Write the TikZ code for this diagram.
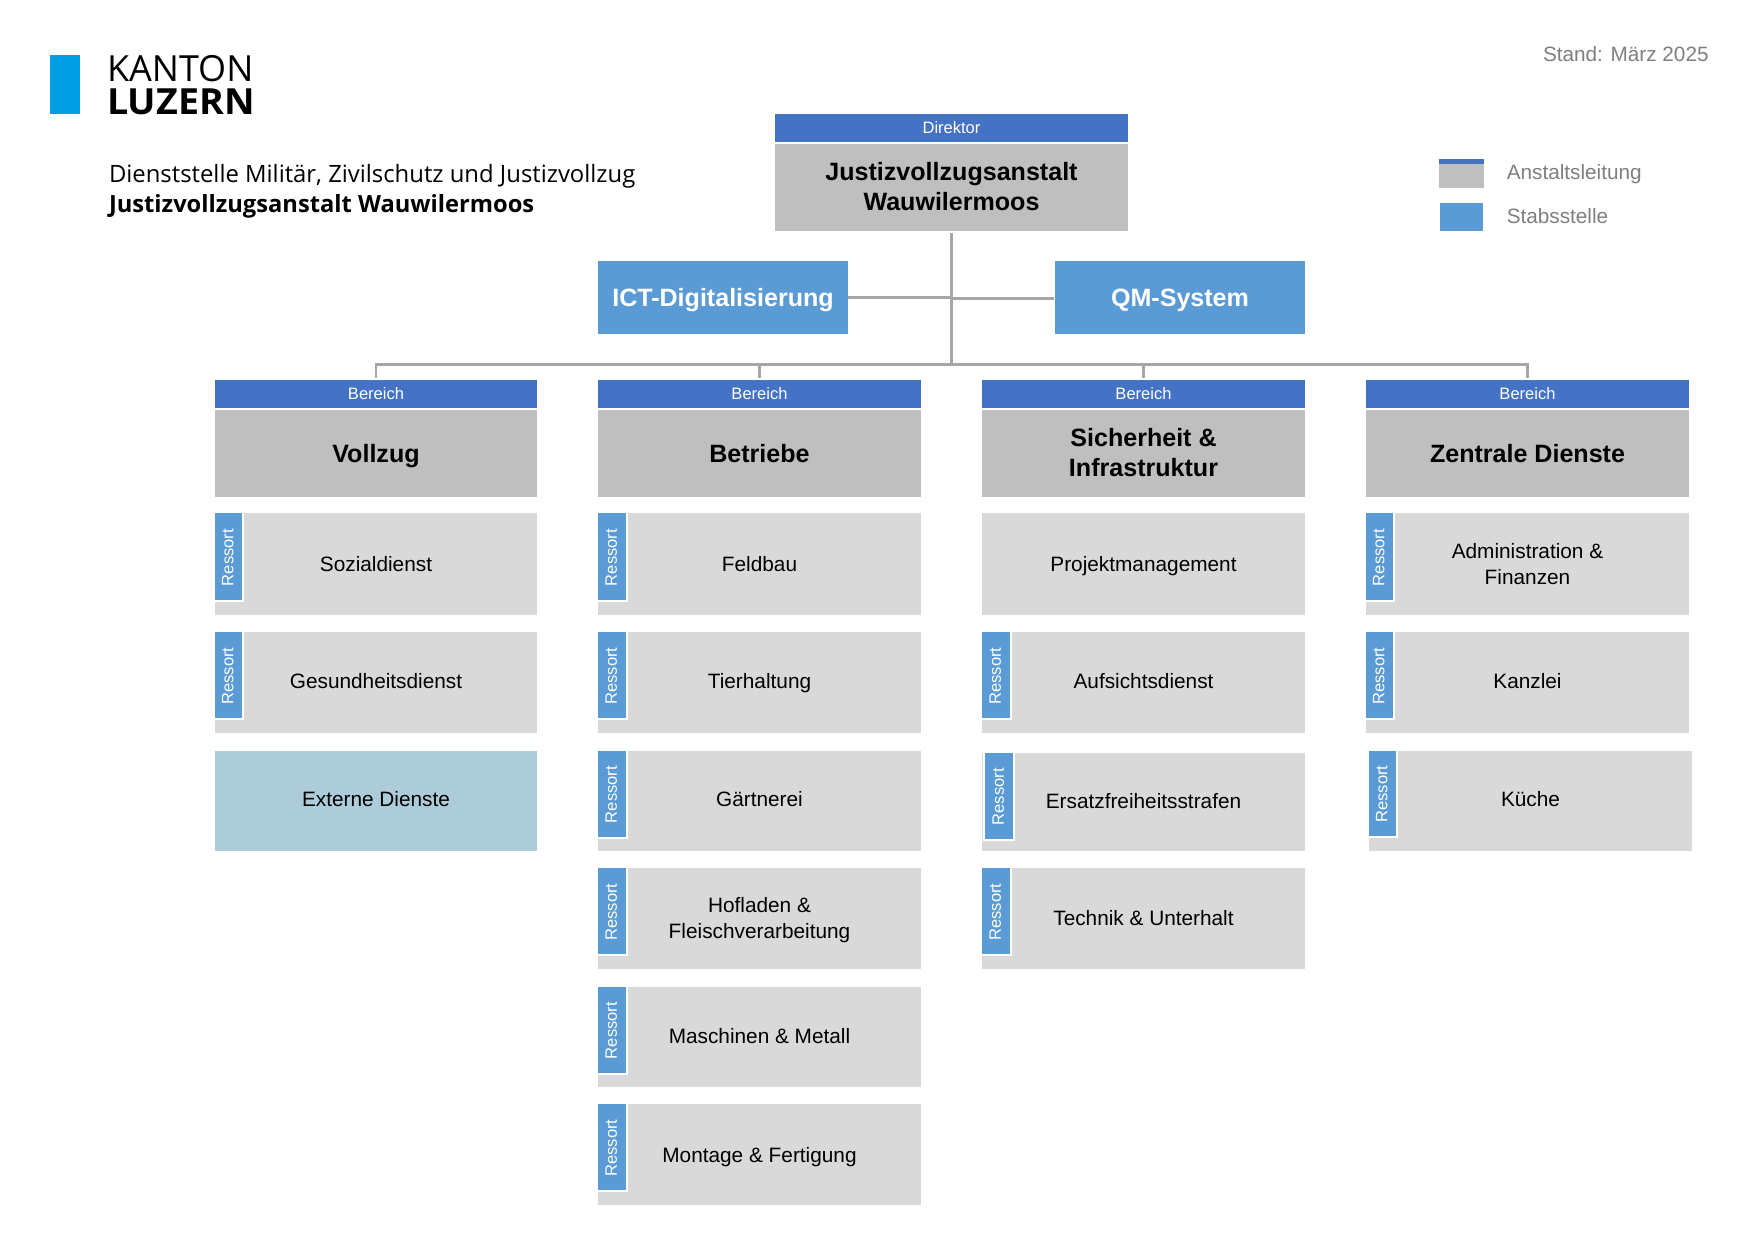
\documentclass[tikz,border=0pt]{standalone}
\usepackage{graphicx}
\usepackage{fontspec}
\setmainfont{Liberation Sans}
\newfontfamily\logofont{Open Sans}
\definecolor{dirblue}{HTML}{4472C4}
\definecolor{stabblue}{HTML}{5B9BD5}
\definecolor{headgray}{HTML}{BFBFBF}
\definecolor{cellgray}{HTML}{D9D9D9}
\definecolor{extblue}{HTML}{ADCCDA}
\definecolor{linegray}{HTML}{A6A6A6}
\definecolor{notegray}{HTML}{7F7F7F}
\definecolor{logoblue}{HTML}{009FE3}
\newcommand{\fsm}{\fontsize{12.4pt}{15pt}\selectfont}
\newcommand{\fmd}{\fontsize{15.6pt}{19.3pt}\selectfont}
\newcommand{\flg}{\fontsize{18.8pt}{22.5pt}\selectfont}
\newcommand{\bx}[7]{%
  \pgfmathsetmacro{\bw}{(#5-#3)*0.75}%
  \pgfmathsetmacro{\bh}{(#6-#4)*0.75}%
  \pgfmathsetmacro{\bcx}{(#3+#5)/2}%
  \pgfmathsetmacro{\bcy}{(#4+#6)/2}%
  \node[#2,minimum width=\bw pt,minimum height=\bh pt] (#1) at (\bcx,\bcy) {#7};}
\newcommand{\ress}[5]{% name x1 y1 x2 y2 (visible blue part)
  \pgfmathsetmacro{\bw}{(#4-#2+2)*0.75}%
  \pgfmathsetmacro{\bh}{(#5-#3+2)*0.75}%
  \pgfmathsetmacro{\bcx}{(#2+#4)/2}%
  \pgfmathsetmacro{\bcy}{(#3+#5)/2}%
  \node[ressortbox,minimum width=\bh pt,minimum height=\bw pt] (#1) at (\bcx,\bcy) {Ressort\kern1.4pt};}
\newcommand{\lowend}{\rule[-1.9pt]{0pt}{0pt}}
\tikzset{
  base/.style={rectangle,inner sep=0pt,outer sep=0pt,draw=none,align=center},
  rowa/.style={text height=14pt,text depth=3.2pt},
  rowb/.style={text height=14pt,text depth=4.8pt},
  rowc/.style={text height=14pt,text depth=4.2pt},
  rowd/.style={text height=14pt,text depth=2.6pt},
  rowe/.style={text height=14pt,text depth=3.8pt},
  one/.style={text height=20pt,text depth=6pt},
  topbar/.style={base,text height=14pt,text depth=5.6pt,fill=dirblue,text=white,font=\fsm},
  headbox/.style={base,fill=headgray,text=black,font=\bfseries\flg},
  stabbox/.style={base,one,fill=stabblue,text=white,font=\bfseries\flg},
  cellbox/.style={base,fill=cellgray,text=black,font=\fmd},
  extbox/.style={base,fill=extblue,text=black,font=\fmd},
  ressortbox/.style={rectangle,inner sep=0pt,outer sep=0pt,fill=stabblue,draw=white,line width=1.5pt,text=white,font=\fsm,rotate=90,text height=7.2pt,text depth=0pt},
  conn/.style={draw=linegray,line width=2.1pt},
  note/.style={inner sep=0pt,outer sep=0pt,anchor=base west,text=notegray,font=\fontsize{15.55pt}{19pt}\selectfont},
  plain/.style={inner sep=0pt,outer sep=0pt,anchor=base west,text=black}
}
\begin{document}
\begin{tikzpicture}[x=0.75pt,y=-0.75pt]
\useasboundingbox (0,0) rectangle (1754,1240);
\fill[white] (0,0) rectangle (1754,1240);
% logo
\bx{logobar}{base,fill=logoblue}{50}{54.7}{79.5}{114.3}{}
\node[plain,font=\logofont\fontsize{27pt}{27pt}\selectfont] (kanton) at (107,81) {KANTON};
\node[plain,font=\logofont\bfseries\fontsize{27pt}{27pt}\selectfont] (luzern) at (107,114.3) {\scalebox{1.045}[1]{LUZERN}};
\node[plain,font=\logofont\fontsize{17.9pt}{18pt}\selectfont] (title1) at (109,182.7) {Dienststelle Militär, Zivilschutz und Justizvollzug};
\node[plain,font=\logofont\bfseries\fontsize{17.77pt}{18pt}\selectfont] (title2) at (109,212) {Justizvollzugsanstalt Wauwilermoos};
\node[note] (stand) at (1543,61) {Stand: März 2025};
% legend
\bx{lgA}{base,fill=headgray}{1439}{159}{1484}{187.7}{}
\bx{lgAtop}{base,fill=dirblue}{1439}{159}{1484}{164}{}
\bx{lgB}{base,fill=stabblue}{1440}{203}{1483}{230.7}{}
\node[note] (lgAt) at (1506.8,179) {Anstaltsleitung};
\node[note] (lgBt) at (1506.8,223.7) {Stabsstelle};
% top
\bx{dir}{topbar}{775}{114}{1128}{142}{Direktor}
\bx{jva}{headbox}{775}{144}{1128}{231}{Justizvollzugsanstalt\\Wauwilermoos\lowend}
\bx{ict}{stabbox}{598}{261}{848}{334}{ICT-Digitalisierung}
\bx{qm}{stabbox}{1055}{261}{1305}{334}{QM-System}
% Bereiche
\bx{b1}{topbar}{215}{380}{537}{408}{Bereich}
\bx{b2}{topbar}{598}{380}{921}{408}{Bereich}
\bx{b3}{topbar}{982}{380}{1305}{408}{Bereich}
\bx{b4}{topbar}{1366}{380}{1689}{408}{Bereich}
\bx{h1}{headbox,one}{215}{410}{537}{497}{Vollzug}
\bx{h2}{headbox,one}{598}{410}{921}{497}{Betriebe}
\bx{h3}{headbox}{982}{410}{1305}{497}{Sicherheit \&\\Infrastruktur\lowend}
\bx{h4}{headbox,one}{1366}{410}{1689}{497}{Zentrale Dienste}
% connectors
\coordinate (busy) at (951.5,364.5);
\draw[conn,shorten <=1.7pt] (jva.south) -- (jva.south |- busy);
\draw[conn,shorten <=1.7pt,shorten >=1.7pt] (b1.north) -- (b1.north |- busy) -- (b4.north |- busy) -- (b4.north);
\draw[conn,shorten >=1.7pt] (b2.north |- busy) -- (b2.north);
\draw[conn,shorten >=1.7pt] (b3.north |- busy) -- (b3.north);
\draw[conn] (ict.east) -- (ict.east -| jva.south);
\draw[conn,shorten <=0.9pt] ([yshift=-0.75pt]qm.west) -- ([yshift=-0.75pt]qm.west -| jva.south);
% Col 1
\bx{c11}{cellbox,rowa}{215}{513.3}{537}{615}{Sozialdienst}
\ress{r11}{215}{513.3}{242}{600}
\bx{c12}{cellbox,rowb}{215}{632}{537}{733}{Gesundheitsdienst}
\ress{r12}{215}{632}{242}{718}
\bx{c13}{extbox,rowb}{215}{750.6}{537}{851}{Externe Dienste}
% Col 2
\bx{c21}{cellbox,rowa}{598}{513.3}{921}{615}{Feldbau}
\ress{r21}{598}{513.3}{626}{600}
\bx{c22}{cellbox,rowb}{598}{632}{921}{733}{Tierhaltung}
\ress{r22}{598}{632}{626}{718}
\bx{c23}{cellbox,rowb}{598}{750.6}{921}{851}{Gärtnerei}
\ress{r23}{598}{750.6}{626}{836.7}
\bx{c24}{cellbox}{598}{868.3}{921}{969}{\rule{0pt}{13.2pt}Hofladen \&\\Fleischverarbeitung}
\ress{r24}{598}{868.3}{626}{954}
\bx{c25}{cellbox,rowc}{598}{986.6}{921}{1087}{Maschinen \& Metall}
\ress{r25}{598}{986.6}{626}{1072.8}
\bx{c26}{cellbox,rowd}{598}{1104}{921}{1205}{Montage \& Fertigung}
\ress{r26}{598}{1104}{626}{1190}
% Col 3
\bx{c31}{cellbox,rowa}{982}{513.3}{1305}{615}{Projektmanagement}
\bx{c32}{cellbox,rowb}{982}{632}{1305}{733}{Aufsichtsdienst}
\ress{r32}{982}{632}{1010}{718}
\bx{c33}{cellbox,rowe}{982}{753}{1305}{851}{Ersatzfreiheitsstrafen}
\ress{r33}{985.2}{753}{1012.8}{838.7}
\bx{c34}{cellbox,rowc}{982}{868.3}{1305}{969}{Technik \& Unterhalt}
\ress{r34}{982}{868.3}{1010}{954}
% Col 4
\bx{c41}{cellbox}{1366}{513.3}{1689}{615}{Administration \&\\Finanzen}
\ress{r41}{1366}{513.3}{1393}{600}
\bx{c42}{cellbox,rowb}{1366}{632}{1689}{733}{Kanzlei}
\ress{r42}{1366}{632}{1393}{718}
\bx{c43}{cellbox,rowb}{1369}{750.6}{1692}{851}{Küche}
\ress{r43}{1369}{750.6}{1396}{835.7}
\end{tikzpicture}
\end{document}
